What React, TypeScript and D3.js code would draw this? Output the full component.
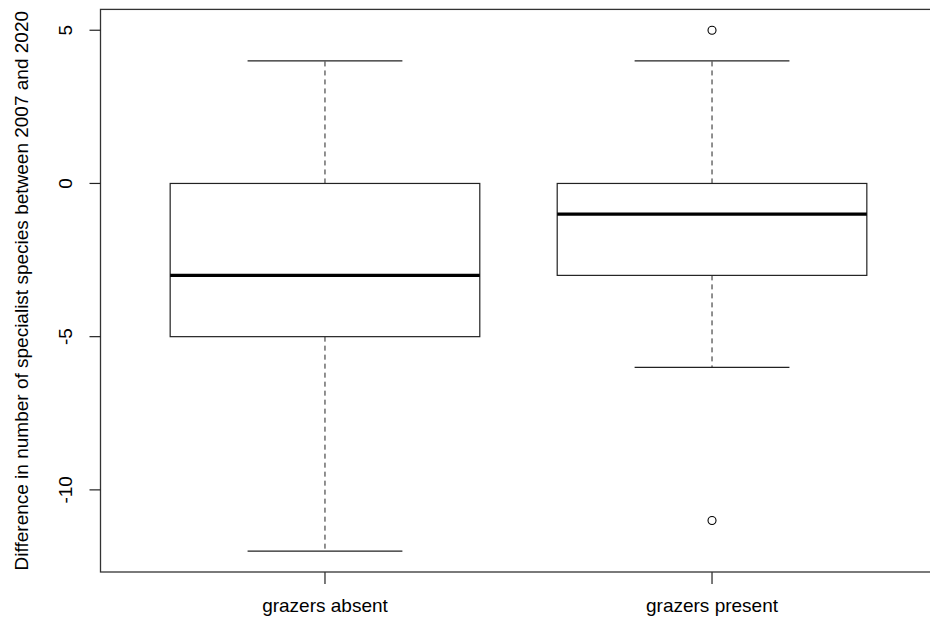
import React from "react";
import * as d3 from "d3";

const groups = ["grazers absent", "grazers present"];
const whiskerLow = [-12, -6];
const q1 = [-5, -3];
const medians = [-3, -1];
const q3 = [0, 0];
const whiskerHigh = [4, 4];
const outliers: number[][] = [[], [5, -11]];
const yTicks = [5, 0, -5, -10];
const yLabel = "Difference in number of specialist species between 2007 and 2020";

export default function App() {
  const W = 930, H = 619;
  const x = d3.scaleLinear().domain([0.42, 2.58]).range([100.5, 936.5]);
  const y = d3.scaleLinear().domain([-12.68, 5.68]).range([572, 9.4]);
  const boxHalf = 0.4, capHalf = 0.2;
  const font = "'Liberation Sans', Arial, Helvetica, sans-serif";
  const stroke = "#222";
  const left = x(0.42), right = x(2.58), top = y(5.68), bottom = y(-12.68);
  return (
    <svg width={W} height={H} style={{ position: "fixed", top: 0, left: 0, background: "#fff" }}
      fontFamily={font}>
      <rect x={0} y={0} width={W} height={H} fill="#fff" />
      {groups.map((g, i) => {
        const c = x(i + 1);
        const bl = x(i + 1 - boxHalf), br = x(i + 1 + boxHalf);
        const cl = x(i + 1 - capHalf), cr = x(i + 1 + capHalf);
        return (
          <g key={g}>
            <line x1={c} x2={c} y1={y(q3[i])} y2={y(whiskerHigh[i])} stroke={stroke} strokeWidth={1} strokeDasharray="5,4" />
            <line x1={c} x2={c} y1={y(q1[i])} y2={y(whiskerLow[i])} stroke={stroke} strokeWidth={1} strokeDasharray="5,4" />
            <line x1={cl} x2={cr} y1={y(whiskerHigh[i])} y2={y(whiskerHigh[i])} stroke={stroke} strokeWidth={1.2} />
            <line x1={cl} x2={cr} y1={y(whiskerLow[i])} y2={y(whiskerLow[i])} stroke={stroke} strokeWidth={1.2} />
            <rect x={bl} y={y(q3[i])} width={br - bl} height={y(q1[i]) - y(q3[i])} fill="#fff" stroke={stroke} strokeWidth={1.2} />
            <line x1={bl} x2={br} y1={y(medians[i])} y2={y(medians[i])} stroke="#000" strokeWidth={3.2} />
            {outliers[i].map((o, k) => (
              <circle key={k} cx={c} cy={y(o)} r={4} fill="none" stroke="#000" strokeWidth={1.1} />
            ))}
            <line x1={c} x2={c} y1={bottom} y2={bottom + 12} stroke={stroke} strokeWidth={1.2} />
            <text x={c} y={612} fontSize={19} textAnchor="middle" fill="#000">{g}</text>
          </g>
        );
      })}
      <rect x={left} y={top} width={right - left} height={bottom - top} fill="none" stroke="#333" strokeWidth={1.3} />
      {yTicks.map((t) => (
        <g key={t}>
          <line x1={left - 11} x2={left} y1={y(t)} y2={y(t)} stroke={stroke} strokeWidth={1.2} />
          <text transform={`translate(72,${y(t)}) rotate(-90)`} fontSize={19} textAnchor="middle" fill="#000">{t}</text>
        </g>
      ))}
      <text transform={`translate(28,${(top + bottom) / 2}) rotate(-90)`} fontSize={19} textAnchor="middle" fill="#000">{yLabel}</text>
    </svg>
  );
}
